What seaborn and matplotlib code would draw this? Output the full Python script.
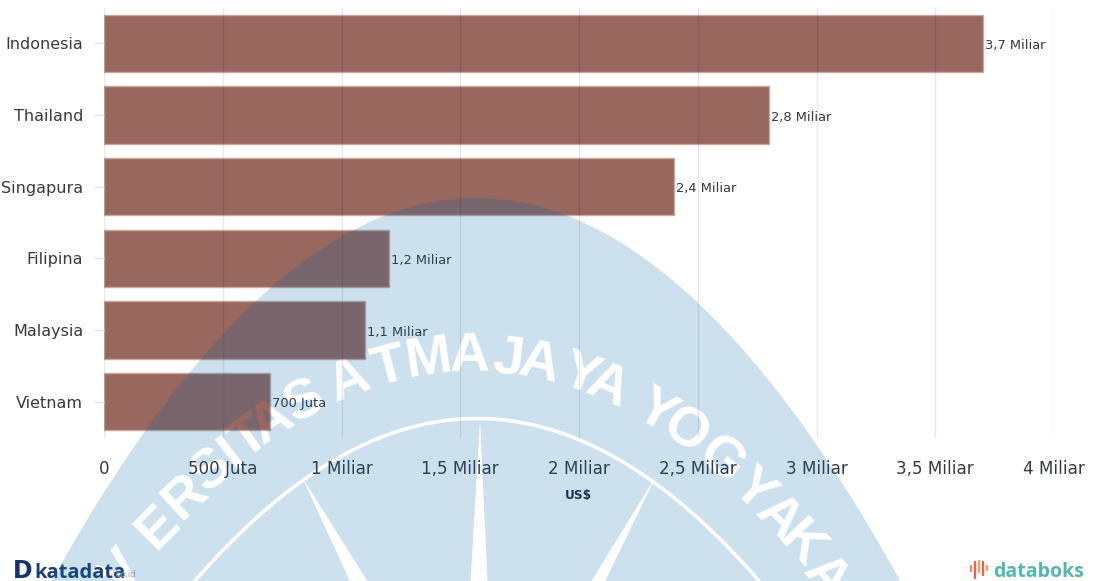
import numpy as np
import pandas as pd
import matplotlib
matplotlib.use("Agg")
import matplotlib.pyplot as plt
from matplotlib.figure import Figure
from matplotlib.backends.backend_agg import FigureCanvasAgg
import seaborn as sns

# Chart data (US$)
countries = ["Indonesia", "Thailand", "Singapura", "Filipina", "Malaysia", "Vietnam"]
values = [3.7e9, 2.8e9, 2.4e9, 1.2e9, 1.1e9, 0.7e9]
value_labels = ["3,7 Miliar", "2,8 Miliar", "2,4 Miliar", "1,2 Miliar", "1,1 Miliar", "700 Juta"]
tick_values = [0, 0.5e9, 1e9, 1.5e9, 2e9, 2.5e9, 3e9, 3.5e9, 4e9]
tick_labels = ["0", "500 Juta", "1 Miliar", "1,5 Miliar", "2 Miliar", "2,5 Miliar", "3 Miliar", "3,5 Miliar", "4 Miliar"]
axis_title = "US$"

W, H = 1093, 581
TEXT = "#333a40"

sns.set_theme(style="white")
plt.rcParams["font.family"] = ["DejaVu Sans"]

fig = plt.figure(figsize=(W / 100, H / 100), dpi=100, facecolor="white")
ax = fig.add_axes([104 / W, 1 - 437.5 / H, 950 / W, 430 / H])

df = pd.DataFrame({"negara": countries, "nilai": values})
sns.barplot(data=df, y="negara", x="nilai", orient="h", color="#98675d", saturation=1,
            width=0.8, edgecolor="#c9a8a2", linewidth=1.0, ax=ax)

ax.set_xlim(0, 4e9)
ax.set_xticks(tick_values)
ax.set_xticklabels(tick_labels, fontsize=12.1, color=TEXT)
ax.tick_params(axis="x", length=0, pad=16)
ax.tick_params(axis="y", length=7, width=1, color="#e3e3e3", labelsize=11.5,
               labelcolor=TEXT, pad=8, left=True)
ax.set_xlabel("")
ax.set_ylabel("")
ax.set_axisbelow(False)
ax.grid(axis="x", color="#000000", alpha=0.09, linewidth=1)
ax.grid(axis="y", visible=False)
for side in ax.spines.values():
    side.set_visible(False)

for label, value, pos in zip(value_labels, values, range(len(values))):
    ax.annotate(label, (value, pos), xytext=(1.5, -1.5), textcoords="offset points",
                ha="left", va="center", fontsize=9.4, color=TEXT)

fig.text(578 / W, 1 - 496 / H, axis_title, fontsize=8.7, fontweight="bold",
         ha="center", va="center", color="#1f2d3a")

# Footer wordmarks
fig.text(13 / W, 1 - 578 / H, "D", fontsize=17, fontweight="bold", color="#14356b",
         family="DejaVu Sans", ha="left", va="baseline")
fig.text(34 / W, 1 - 577.5 / H, "katadata", fontsize=14.5, fontweight="bold", color="#1c3f75",
         family="Open Sans", ha="left", va="baseline")
fig.text(113 / W, 1 - 577 / H, ".co.id", fontsize=6, color="#9aa3ad", ha="left", va="baseline")
fig.text(993 / W, 1 - 577 / H, "databoks", fontsize=14, fontweight="bold", color="#52b7b0",
         family="Open Sans", ha="left", va="baseline")
icon_x = [971, 975, 979, 983, 987]
icon_top = [566, 562, 561, 562, 566]
icon_bot = [571, 578, 572, 575, 570]
icon_col = ["#f0866a", "#e8604f", "#f0a060", "#e8604f", "#f0a060"]
for x, t, b, c in zip(icon_x, icon_top, icon_bot, icon_col):
    fig.add_artist(plt.Line2D([x / W, x / W], [1 - t / H, 1 - b / H], color=c, lw=1.7,
                              solid_capstyle="round"))


# University seal laid over the whole page as a translucent layer
def seal_layer():
    sheet = Figure(figsize=(W / 100, H / 100), dpi=100, facecolor="white")
    canvas = FigureCanvasAgg(sheet)
    a = sheet.add_axes([0, 0, 1, 1])
    a.set_xlim(0, W)
    a.set_ylim(H, 0)
    a.axis("off")

    xs = np.linspace(-620, 620, 400)
    a.fill(np.r_[xs + 476, xs[::-1] + 476], np.r_[198 + xs ** 2 / 470, np.full(400, 900)],
           color="black", lw=0)
    a.plot(xs + 477, 418.5 + xs ** 2 / 490, color="white", lw=2.6)

    for tip, left, right in [((480, 421), (470, 590), (488, 590)),
                             ((302, 477), (354, 590), (373, 590)),
                             ((656, 476), (586, 590), (601, 590))]:
        a.fill(*zip(tip, left, right), color="white", lw=0)

    letters = [("V", 133), ("E", 168), ("R", 195), ("S", 221), ("I", 240), ("T", 258),
               ("A", 280), ("S", 311), ("A", 354), ("T", 393), ("M", 430), ("A", 470),
               ("J", 507), ("A", 536), ("Y", 576), ("A", 602), ("Y", 648), ("O", 677),
               ("G", 712), ("Y", 743), ("A", 768), ("K", 790), ("A", 815)]
    for ch, x in letters:
        dx = x - 472
        y = 371 + dx ** 2 / 600 + (dx / 300) ** 4 * 12
        slope = 2 * dx / 600
        a.text(x, y, ch, fontsize=40, family="Liberation Sans", color="white", fontweight="bold",
               ha="center", va="baseline", rotation=-np.degrees(np.arctan(slope)),
               rotation_mode="anchor")

    canvas.draw()
    grey = np.asarray(canvas.buffer_rgba())[..., 0].astype(float) / 255
    layer = np.zeros(grey.shape + (4,))
    layer[..., :3] = np.array([0, 100, 170]) / 255
    layer[..., 3] = (1 - grey) * 0.2
    return layer


fig.figimage(seal_layer(), origin="upper", zorder=20)

fig.savefig("out.png", dpi=100, facecolor="white")
